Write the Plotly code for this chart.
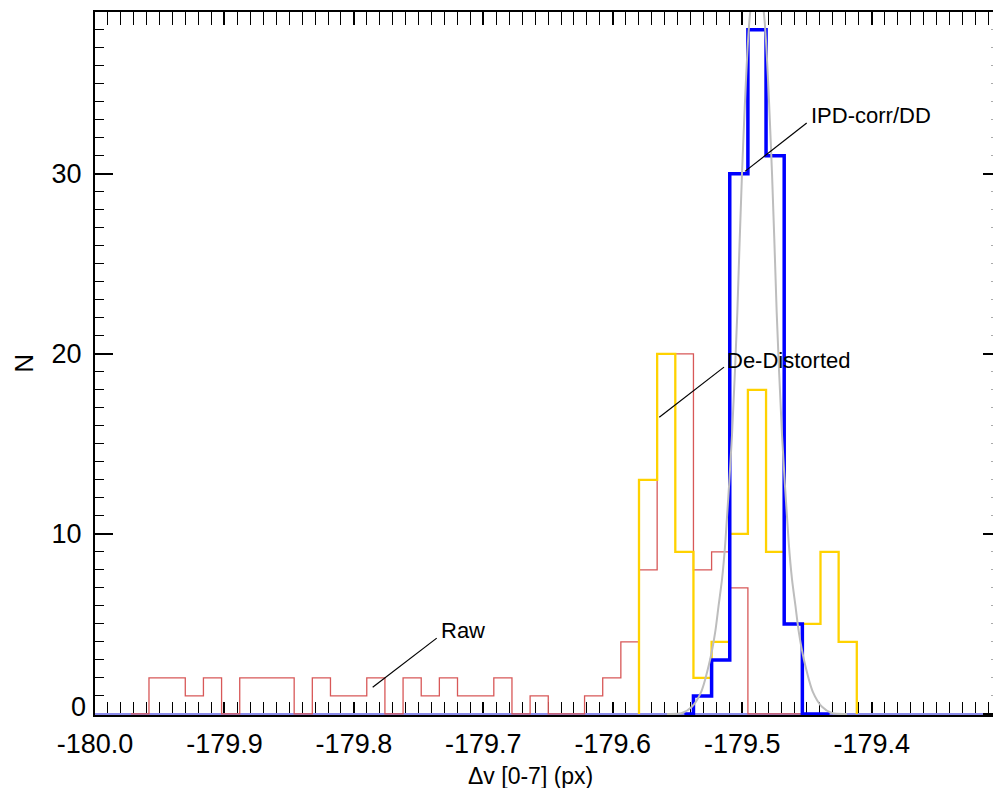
import numpy as np
import plotly.graph_objects as go

# ---- data ----
bin_start = -179.9583   # left edge of histogram bin 0
bin_width = 0.01402

# Raw: bins -1 .. 36
raw_first_bin = -1
raw_counts = [0, 2, 2, 1, 2, 0, 2, 2, 2, 0, 2, 1, 1, 2, 0, 2, 1, 2, 1, 1, 2,
              0, 1, 0, 0, 1, 2, 4, 8, 20, 20, 8, 9, 7, 0, 0, 0, 0]

# De-Distorted: bins 27 .. 38
dd_first_bin = 27
dd_counts = [13, 20, 9, 2, 4, 10, 18, 9, 5, 5, 9, 4]

# IPD-corr/DD: bins 29 .. 37 (drawn from bin centres)
ipd_first_bin = 29
ipd_counts = [0, 1, 3, 30, 38, 31, 5, 0, 0]

# Gaussian fit curve
fit_x = [-179.5581, -179.5466, -179.5389, -179.5319, -179.5249, -179.5210,
         -179.5183, -179.5156, -179.5131, -179.5079, -179.5038, -179.5002,
         -179.4938, -179.4886, -179.4834, -179.4770, -179.4734, -179.4693,
         -179.4641, -179.4616, -179.4589, -179.4562, -179.4523, -179.4453,
         -179.4384, -179.4307, -179.4191]
fit_y = [0.0, 0.05, 0.4, 1.2, 3.0, 4.5, 6.0, 7.5, 9.5, 15.5, 22.3, 30.0,
         39.0, 41.0, 39.0, 30.0, 22.3, 15.5, 9.5, 7.5, 6.0, 4.5, 3.0, 1.2,
         0.4, 0.05, 0.0]

x_tick_vals = [-180.0, -179.9, -179.8, -179.7, -179.6, -179.5, -179.4]
x_tick_text = ["-180.0", "-179.9", "-179.8", "-179.7", "-179.6", "-179.5", "-179.4"]
y_tick_vals = [0, 10, 20, 30]
y_tick_text = ["", "10", "20", "30"]   # "0" is placed separately (raised, as in the original)
y_zero_label = "0"

x_range = [-180.0, -179.3063]
y_range = [-0.06, 38.98]

labels = ["Raw", "De-Distorted", "IPD-corr/DD"]
label_pos = [(-179.7340, 4.61), (-179.5134, 19.63), (-179.4484, 33.24)]
leader_lines = [((-179.7855, 1.48), (-179.7360, 4.21)),
                ((-179.5641, 16.48), (-179.5141, 19.26)),
                ((-179.4979, 30.13), (-179.4502, 32.82))]

FONT = "Liberation Sans"
TICK_SIZE = 27


def step_edges(first_bin, counts):
    n = len(counts)
    edges = bin_start + bin_width * np.arange(first_bin, first_bin + n + 1)
    xs = [edges[0]] + list(edges[:-1]) + [edges[-1]]
    ys = [0] + list(counts) + [0]
    return xs, ys


def centres(first_bin, counts):
    n = len(counts)
    return list(bin_start + bin_width * (np.arange(first_bin, first_bin + n) + 0.5))


fig = go.Figure()

# baseline line
fig.add_trace(go.Scatter(x=x_range, y=[0, 0], mode="lines",
                         line=dict(color="#8c8cec", width=2), hoverinfo="skip"))

rx, ry = step_edges(raw_first_bin, raw_counts)
fig.add_trace(go.Scatter(x=rx, y=ry, mode="lines", line_shape="hv",
                         line=dict(color="#d85858", width=1.3), name="Raw"))

dx, dy = step_edges(dd_first_bin, dd_counts)
fig.add_trace(go.Scatter(x=dx, y=dy, mode="lines", line_shape="hv",
                         line=dict(color="#ffd200", width=2.3), name="De-Distorted"))

fig.add_trace(go.Scatter(x=centres(ipd_first_bin, ipd_counts), y=ipd_counts,
                         mode="lines", line_shape="hvh",
                         line=dict(color="#0000ff", width=3.5), name="IPD-corr/DD"))

fig.add_trace(go.Scatter(x=fit_x, y=fit_y, mode="lines", line_shape="spline",
                         line=dict(color="#bdbdbd", width=2, smoothing=0.8), name="fit"))

# empty trace on right-hand axis so it is drawn
fig.add_trace(go.Scatter(x=[], y=[], yaxis="y2", showlegend=False))

for (x0, y0), (x1, y1) in leader_lines:
    fig.add_shape(type="line", xref="x", yref="y", x0=x0, y0=y0, x1=x1, y1=y1,
                  line=dict(color="black", width=1.2))

for txt, (tx, ty) in zip(labels, label_pos):
    fig.add_annotation(x=tx, y=ty, xref="x", yref="y", text=txt, showarrow=False,
                       xanchor="left", yanchor="middle",
                       font=dict(family=FONT, size=22, color="black"))

# raised "0" label on the y axis
fig.add_annotation(x=0, y=0.0113, xref="paper", yref="paper", text=y_zero_label,
                   showarrow=False, xanchor="right", yanchor="middle", xshift=-7,
                   font=dict(family=FONT, size=TICK_SIZE, color="black"))

# axis titles
fig.add_annotation(x=0.485, y=-0.087, xref="paper", yref="paper",
                   text="\u0394v [0-7] (px)", showarrow=False,
                   xanchor="center", yanchor="middle",
                   font=dict(family=FONT, size=23, color="black"))
fig.add_annotation(x=-0.0798, y=0.50, xref="paper", yref="paper",
                   text="N", showarrow=False, textangle=-90,
                   xanchor="center", yanchor="middle",
                   font=dict(family=FONT, size=26, color="black"))

fig.update_layout(
    width=993, height=788, autosize=False,
    margin=dict(l=95, r=0, t=12, b=73),
    plot_bgcolor="white", paper_bgcolor="white",
    showlegend=False,
    xaxis=dict(range=x_range, tickmode="array", tickvals=x_tick_vals, ticktext=x_tick_text,
               ticks="inside", ticklen=13, tickwidth=1.5, tickcolor="black",
               showline=True, linecolor="black", linewidth=2, mirror="allticks",
               showgrid=False, zeroline=False, layer="below traces",
               tickfont=dict(family=FONT, size=TICK_SIZE, color="black"),
               ticklabelstandoff=4,
               minor=dict(tickmode="linear", tick0=-180.0, dtick=0.01, ticks="inside",
                          ticklen=6, tickwidth=1.3, tickcolor="black", showgrid=False)),
    yaxis=dict(range=y_range, tickmode="array", tickvals=y_tick_vals, ticktext=y_tick_text,
               ticks="inside", ticklen=18, tickwidth=1.5, tickcolor="black",
               showline=True, linecolor="black", linewidth=2, mirror=False,
               showgrid=False, zeroline=False, layer="below traces",
               tickfont=dict(family=FONT, size=TICK_SIZE, color="black"),
               ticklabelstandoff=6,
               minor=dict(tickmode="linear", tick0=0, dtick=1, ticks="inside",
                          ticklen=9, tickwidth=1.3, tickcolor="black", showgrid=False)),
    yaxis2=dict(range=y_range, overlaying="y", side="right", tickmode="array",
                tickvals=y_tick_vals, showticklabels=False, ticks="inside",
                ticklen=10, tickwidth=1.5, tickcolor="black", showline=False,
                showgrid=False, zeroline=False,
                minor=dict(tickmode="linear", tick0=0, dtick=1, ticks="inside",
                           ticklen=2, tickwidth=1.2, tickcolor="#aaaaaa", showgrid=False)),
)

fig.write_html("out.html")
